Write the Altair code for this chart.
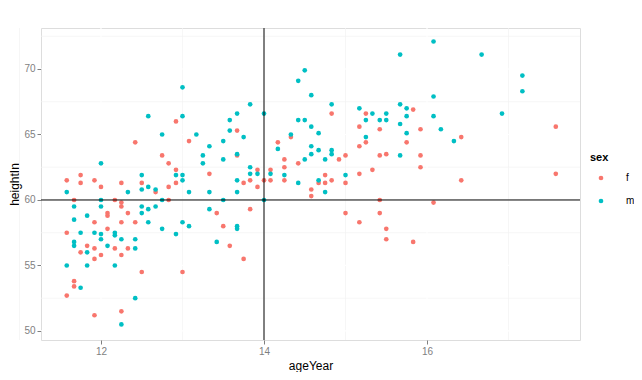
import altair as alt
import pandas as pd

# ---- data ----
f_age = [12.42, 12.75, 12.83, 12.92, 11.75, 11.58, 11.92, 11.75, 12.25, 12.50,
         12.92, 12.00, 12.83, 12.67, 11.67, 12.17, 12.25, 12.83, 12.25, 12.33,
         12.08, 12.08, 11.92, 12.25, 12.42, 12.08, 11.58, 11.83, 11.92, 12.17,
         12.33, 11.75, 12.00, 12.25, 11.92, 12.50, 11.67, 11.67, 11.58, 12.25,
         11.92, 13.67, 13.08, 14.17, 14.33, 13.67, 14.25, 14.42, 14.25, 13.92,
         14.08, 13.33, 13.83, 14.00, 14.08, 14.25, 13.75, 13.92, 13.83, 13.42,
         13.50, 13.58, 13.75, 13.00, 12.92, 14.83, 15.25, 15.83, 15.17, 15.42,
         17.58, 15.92, 15.25, 15.75, 15.17, 15.00, 15.42, 15.50, 14.92, 15.33,
         15.17, 14.75, 14.83, 14.67, 14.75, 15.00, 14.58, 14.58, 15.42, 15.00,
         15.42, 15.17, 15.50, 15.50, 15.83, 16.42, 15.92, 15.92, 16.42, 17.58,
         16.08]
f_height = [64.4, 63.4, 62.8, 62.3, 61.9, 61.5, 61.5, 61.3, 61.3, 61.3,
            61.3, 61.0, 61.0, 60.6, 60.0, 60.0, 59.8, 60.0, 59.5, 59.0,
            59.0, 58.8, 58.3, 58.3, 58.3, 57.8, 57.5, 56.5, 56.3, 56.3,
            56.3, 56.0, 55.8, 55.8, 55.5, 54.5, 53.8, 53.4, 52.7, 51.5,
            51.2, 65.3, 64.5, 64.4, 64.8, 63.4, 63.1, 62.8, 62.5, 62.3,
            62.3, 62.0, 61.5, 61.5, 61.5, 61.5, 61.3, 61.0, 59.3, 59.0,
            58.0, 56.5, 55.5, 54.5, 66.0, 66.6, 66.6, 66.9, 65.6, 65.4,
            65.6, 65.4, 64.4, 64.4, 64.1, 63.4, 63.4, 63.5, 63.1, 62.3,
            62.0, 61.9, 61.5, 61.3, 61.3, 61.3, 60.8, 60.3, 60.0, 59.0,
            59.0, 58.3, 57.8, 57.0, 56.8, 64.8, 63.4, 62.5, 61.5, 62.0,
            59.8]

m_age = [12.75, 12.00, 12.50, 12.92, 12.58, 12.50, 12.67, 11.58, 12.33, 12.00,
         12.75, 11.67, 12.00, 12.50, 12.58, 12.67, 12.50, 11.83, 11.67, 12.58,
         12.75, 11.75, 11.92, 12.00, 12.17, 12.92, 12.00, 12.17, 12.25, 12.42,
         11.67, 11.67, 12.08, 12.42, 11.83, 11.58, 11.83, 12.17, 11.75, 12.42,
         12.25, 13.17, 13.75, 13.50, 14.33, 13.33, 14.17, 13.25, 13.67, 13.25,
         13.50, 13.83, 13.00, 13.83, 13.92, 14.08, 14.25, 13.00, 13.67, 14.42,
         13.08, 13.33, 13.67, 13.50, 14.00, 13.33, 13.00, 13.08, 13.67, 13.67,
         13.42, 13.00, 14.42, 13.83, 13.00, 13.67, 14.00, 13.58, 14.42, 13.58,
         12.58, 15.67, 14.50, 14.58, 14.83, 14.50, 14.58, 14.67, 15.17, 15.33,
         15.50, 15.67, 15.75, 15.75, 15.25, 15.42, 15.50, 15.67, 15.75, 16.08,
         16.67, 17.17, 17.17, 16.08, 16.08, 16.92, 16.17, 15.25, 14.58, 14.67,
         14.83, 14.83, 14.58, 15.67, 14.50, 14.75, 15.00, 14.67, 14.75, 16.33]
m_height = [65.0, 62.8, 61.9, 61.9, 61.0, 60.8, 60.8, 60.6, 60.6, 60.0,
            60.0, 59.5, 59.5, 59.5, 59.3, 59.5, 59.0, 58.8, 58.5, 58.3,
            57.8, 57.5, 57.5, 57.4, 57.5, 57.4, 57.0, 57.3, 57.0, 57.0,
            56.8, 56.5, 56.5, 56.3, 56.0, 55.0, 55.0, 55.0, 53.3, 52.5,
            50.5, 65.0, 64.8, 64.5, 65.0, 64.1, 63.9, 63.4, 63.5, 62.8,
            63.1, 62.5, 61.9, 62.0, 62.0, 62.0, 61.9, 61.5, 61.5, 61.3,
            60.6, 60.6, 60.6, 60.0, 60.0, 59.3, 58.3, 58.0, 58.0, 57.8,
            56.8, 68.6, 69.1, 67.3, 66.4, 66.6, 66.6, 66.1, 66.1, 65.3,
            66.4, 71.1, 69.9, 68.0, 67.3, 66.1, 65.6, 65.1, 67.0, 66.6,
            66.6, 67.3, 67.0, 66.4, 66.1, 66.1, 66.1, 65.8, 65.1, 72.1,
            71.1, 69.5, 68.3, 67.9, 66.4, 66.6, 65.4, 64.8, 64.1, 63.8,
            63.8, 63.5, 63.5, 63.4, 63.1, 63.1, 61.9, 61.5, 60.6, 64.5]

sex_levels = ["f", "m"]
sex_colors = ["#F8766D", "#00BFC4"]

x_major = [12, 14, 16]
x_minor = [11, 13, 15, 17]
y_major = [50, 55, 60, 65, 70]
y_minor = [52.5, 57.5, 62.5, 67.5, 72.5]
x_ref = [14]
y_ref = [60]

# ---- tables ----
points = pd.DataFrame({
    "ageYear": f_age + m_age,
    "heightIn": f_height + m_height,
    "sex": ["f"] * len(f_age) + ["m"] * len(m_age),
})

FONT = "Liberation Sans"
GREY = "#7F7F7F"

xs = alt.Scale(domain=[11.264, 17.877], nice=False, zero=False)
ys = alt.Scale(domain=[49.31, 73.13], nice=False, zero=False)

xaxis = alt.Axis(values=x_major, grid=False, domain=False, format="d",
                 tickColor=GREY, tickSize=4, labelColor=GREY, labelFontSize=10,
                 labelPadding=2, labelFont=FONT, title="ageYear",
                 titleFont=FONT, titleFontSize=12, titleFontWeight="normal",
                 titleColor="black", titlePadding=4)
yaxis = alt.Axis(values=y_major, grid=False, domain=False, format="d",
                 tickColor=GREY, tickSize=4, labelColor=GREY, labelFontSize=10,
                 labelPadding=2, labelFont=FONT, title="heightIn",
                 titleFont=FONT, titleFontSize=12, titleFontWeight="normal",
                 titleColor="black", titlePadding=2)

def vrules(vals, color, width):
    return alt.Chart(pd.DataFrame({"ageYear": vals})).mark_rule(
        color=color, strokeWidth=width).encode(
        x=alt.X("ageYear:Q", scale=xs, axis=xaxis))

def hrules(vals, color, width):
    return alt.Chart(pd.DataFrame({"heightIn": vals})).mark_rule(
        color=color, strokeWidth=width).encode(
        y=alt.Y("heightIn:Q", scale=ys, axis=yaxis))

minor_v = vrules(x_minor, "#F2F2F2", 0.7)
minor_h = hrules(y_minor, "#F2F2F2", 0.7)
major_v = vrules(x_major, "#FFFFFF", 1.2)
major_h = hrules(y_major, "#FFFFFF", 1.2)

scatter = alt.Chart(points).mark_circle(size=22, opacity=1).encode(
    x=alt.X("ageYear:Q", scale=xs, axis=xaxis),
    y=alt.Y("heightIn:Q", scale=ys, axis=yaxis),
    color=alt.Color("sex:N",
                    scale=alt.Scale(domain=sex_levels, range=sex_colors),
                    legend=alt.Legend(orient="none", legendX=549, legendY=124,
                                      title="sex", titleFont=FONT,
                                      titleFontSize=11, titleFontWeight="bold",
                                      titlePadding=10, labelFont=FONT,
                                      labelFontSize=10, labelColor="black",
                                      labelOffset=20, symbolType="circle",
                                      symbolSize=22, rowPadding=13,
                                      symbolOffset=6)),
)

ref_v = vrules(x_ref, "black", 1)
ref_h = hrules(y_ref, "black", 1)

chart = alt.layer(
    minor_v, minor_h, major_v, major_h, scatter, ref_v, ref_h
).properties(
    width=539, height=312,
    autosize=alt.AutoSizeParams(type="none"),
    padding={"left": 33, "top": 20, "right": 54, "bottom": 32},
).configure_view(
    fill="#E3E3E3", stroke="transparent"
).configure(background="white")

chart.save("out.html", embed_options={"renderer": "svg", "actions": False})
